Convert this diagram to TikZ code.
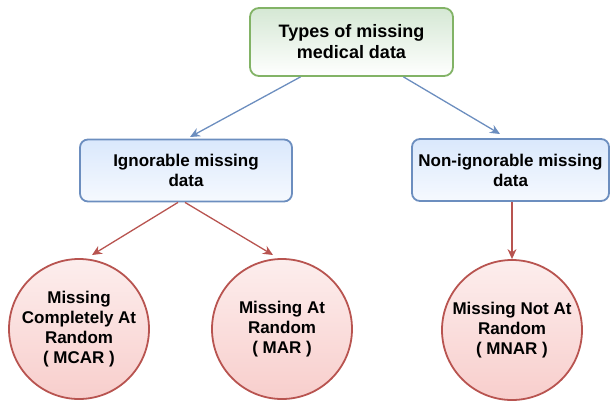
\documentclass[tikz,border=0pt]{standalone}
\usepackage{fontspec}
\setmainfont{Liberation Sans}
\usetikzlibrary{arrows.meta,calc}
\definecolor{gfill}{HTML}{D5E8D4}
\definecolor{gline}{HTML}{82B366}
\definecolor{bfill}{HTML}{DAE8FC}
\definecolor{bline}{HTML}{6C8EBF}
\definecolor{rfill}{HTML}{F8CECC}
\definecolor{rline}{HTML}{B85450}
\tikzset{
  lbl/.style={font=\fontsize{17}{20}\selectfont\bfseries, align=center, text=black},
  greenbox/.style={lbl, draw=gline, line width=1.8pt, rounded corners=9pt, top color=gfill, bottom color=white, minimum width=203pt, minimum height=68pt, font=\fontsize{18}{21}\selectfont\bfseries},
  bluebox/.style={lbl, draw=bline, line width=1.8pt, rounded corners=8pt, top color=bfill, bottom color=bfill!25, minimum height=62pt},
  redcircle/.style={lbl, draw=rline, line width=1.8pt, circle, top color=rfill!35, bottom color=rfill, minimum size=140pt, inner sep=0pt},
  blueconn/.style={draw=bline, line width=1.3pt, -{Stealth[length=10pt,width=9pt]}},
  redconn/.style={draw=rline, line width=1.3pt, -{Stealth[length=10pt,width=9pt]}}
}
\begin{document}
\begin{tikzpicture}[x=1pt,y=-1pt]
\useasboundingbox (0,0) rectangle (610,405);
\node[greenbox] (top) at (351.5,42) {Types of missing\\medical data};
\node[bluebox, minimum width=212pt] (ign) at (186,170.5) {Ignorable missing\\data};
\node[bluebox, minimum width=197pt] (non) at (510.5,170) {Non-ignorable missing\\data};
\node[redcircle] (mcar) at (79,329) {Missing\\Completely At\\Random\\( MCAR )};
\node[redcircle] (mar) at (282,329) {Missing At\\Random\\( MAR )};
\node[redcircle] (mnar) at (512,330) {Missing Not At\\Random\\( MNAR )};
\coordinate (t1) at ($(top.south)+(-51,0)$);
\coordinate (t2) at ($(top.south)+(52,0)$);
\coordinate (i1) at ($(ign.south)+(-8,0)$);
\coordinate (i2) at ($(ign.south)+(-1,0)$);
\coordinate (e1) at (190,137);
\coordinate (e2) at (500,134);
\coordinate (e3) at (92,255);
\coordinate (e4) at (273,255);
\draw[blueconn] (t1) -- (e1);
\draw[blueconn] (t2) -- (e2);
\draw[redconn] (i1) -- (e3);
\draw[redconn] (i2) -- (e4);
\draw[redconn] (non.south -| mnar.north) -- (mnar.north);
\end{tikzpicture}
\end{document}
